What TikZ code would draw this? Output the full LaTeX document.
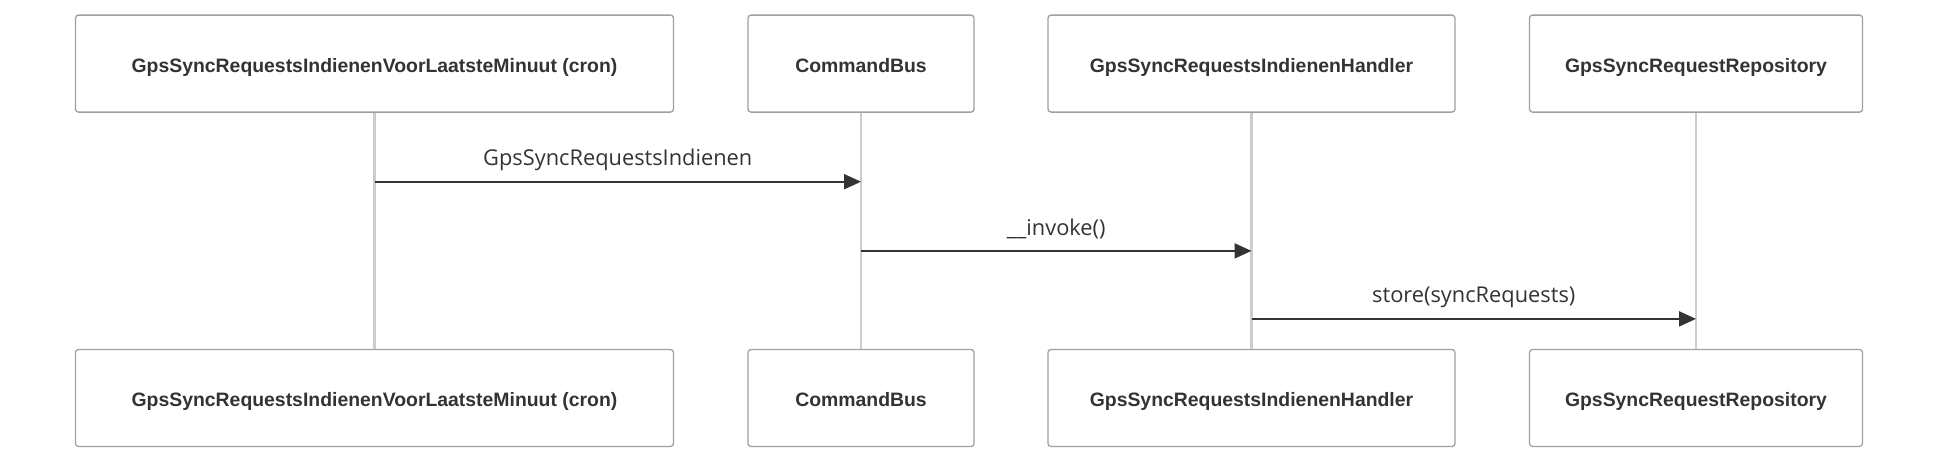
\documentclass[tikz,border=0pt]{standalone}
\usepackage{fontspec}
\setmainfont{Liberation Sans}
\newfontfamily\msgfont{Open Sans}
\usetikzlibrary{arrows.meta,calc}
\definecolor{boxborder}{HTML}{A0A0A0}
\definecolor{lifeline}{HTML}{CCCCCC}
\definecolor{ink}{HTML}{333333}
\tikzset{
  actor/.style={draw=boxborder, line width=1.3pt, fill=white, rounded corners=3pt,
    inner sep=0pt, minimum height=97pt, text=ink, text height=19pt, text depth=2pt,
    font=\fontsize{19.4}{22}\selectfont\bfseries},
  lline/.style={draw=lifeline, line width=2.5pt},
  msg/.style={draw=ink, line width=2pt, -{Triangle[length=17pt,width=15pt]}},
  msglabel/.style={text=ink, font=\msgfont\fontsize{21.8}{25}\selectfont, inner sep=0pt}
}
\begin{document}
\begin{tikzpicture}[x=1pt,y=-1pt]
\useasboundingbox (0,0) rectangle (1938,463);
% top actors
\node[actor, minimum width=598pt] (a1) at (374.5,63.6) {GpsSyncRequestsIndienenVoorLaatsteMinuut (cron)};
\node[actor, minimum width=226pt] (a2) at (861,63.6) {CommandBus};
\node[actor, minimum width=407pt] (a3) at (1251.5,63.6) {GpsSyncRequestsIndienenHandler};
\node[actor, minimum width=333pt] (a4) at (1696,63.6) {GpsSyncRequestRepository};
% bottom actors
\node[actor, minimum width=598pt] (b1) at (374.5,398) {GpsSyncRequestsIndienenVoorLaatsteMinuut (cron)};
\node[actor, minimum width=226pt] (b2) at (861,398) {CommandBus};
\node[actor, minimum width=407pt] (b3) at (1251.5,398) {GpsSyncRequestsIndienenHandler};
\node[actor, minimum width=333pt] (b4) at (1696,398) {GpsSyncRequestRepository};
% lifelines
\draw[lline] (a1.south) -- (b1.north);
\draw[lline] (a2.south) -- (b2.north);
\draw[lline] (a3.south) -- (b3.north);
\draw[lline] (a4.south) -- (b4.north);
% message anchors
\coordinate (m1s) at (a1.south |- 0,181.7);
\coordinate (m1e) at (a2.south |- 0,181.7);
\coordinate (m2s) at (a2.south |- 0,250.9);
\coordinate (m2e) at (a3.south |- 0,250.9);
\coordinate (m3s) at (a3.south |- 0,318.9);
\coordinate (m3e) at (a4.south |- 0,318.9);
\draw[msg] (m1s) -- (m1e);
\draw[msg] (m2s) -- (m2e);
\draw[msg] (m3s) -- (m3e);
\node[msglabel] (l1) at ($(m1s)!0.5!(m1e) + (0,-22)$) {GpsSyncRequestsIndienen};
\node[msglabel] (l2) at ($(m2s)!0.5!(m2e) + (0,-22)$) {\_\_invoke()};
\node[msglabel] (l3) at ($(m3s)!0.5!(m3e) + (0,-22)$) {store(syncRequests)};
\end{tikzpicture}
\end{document}
